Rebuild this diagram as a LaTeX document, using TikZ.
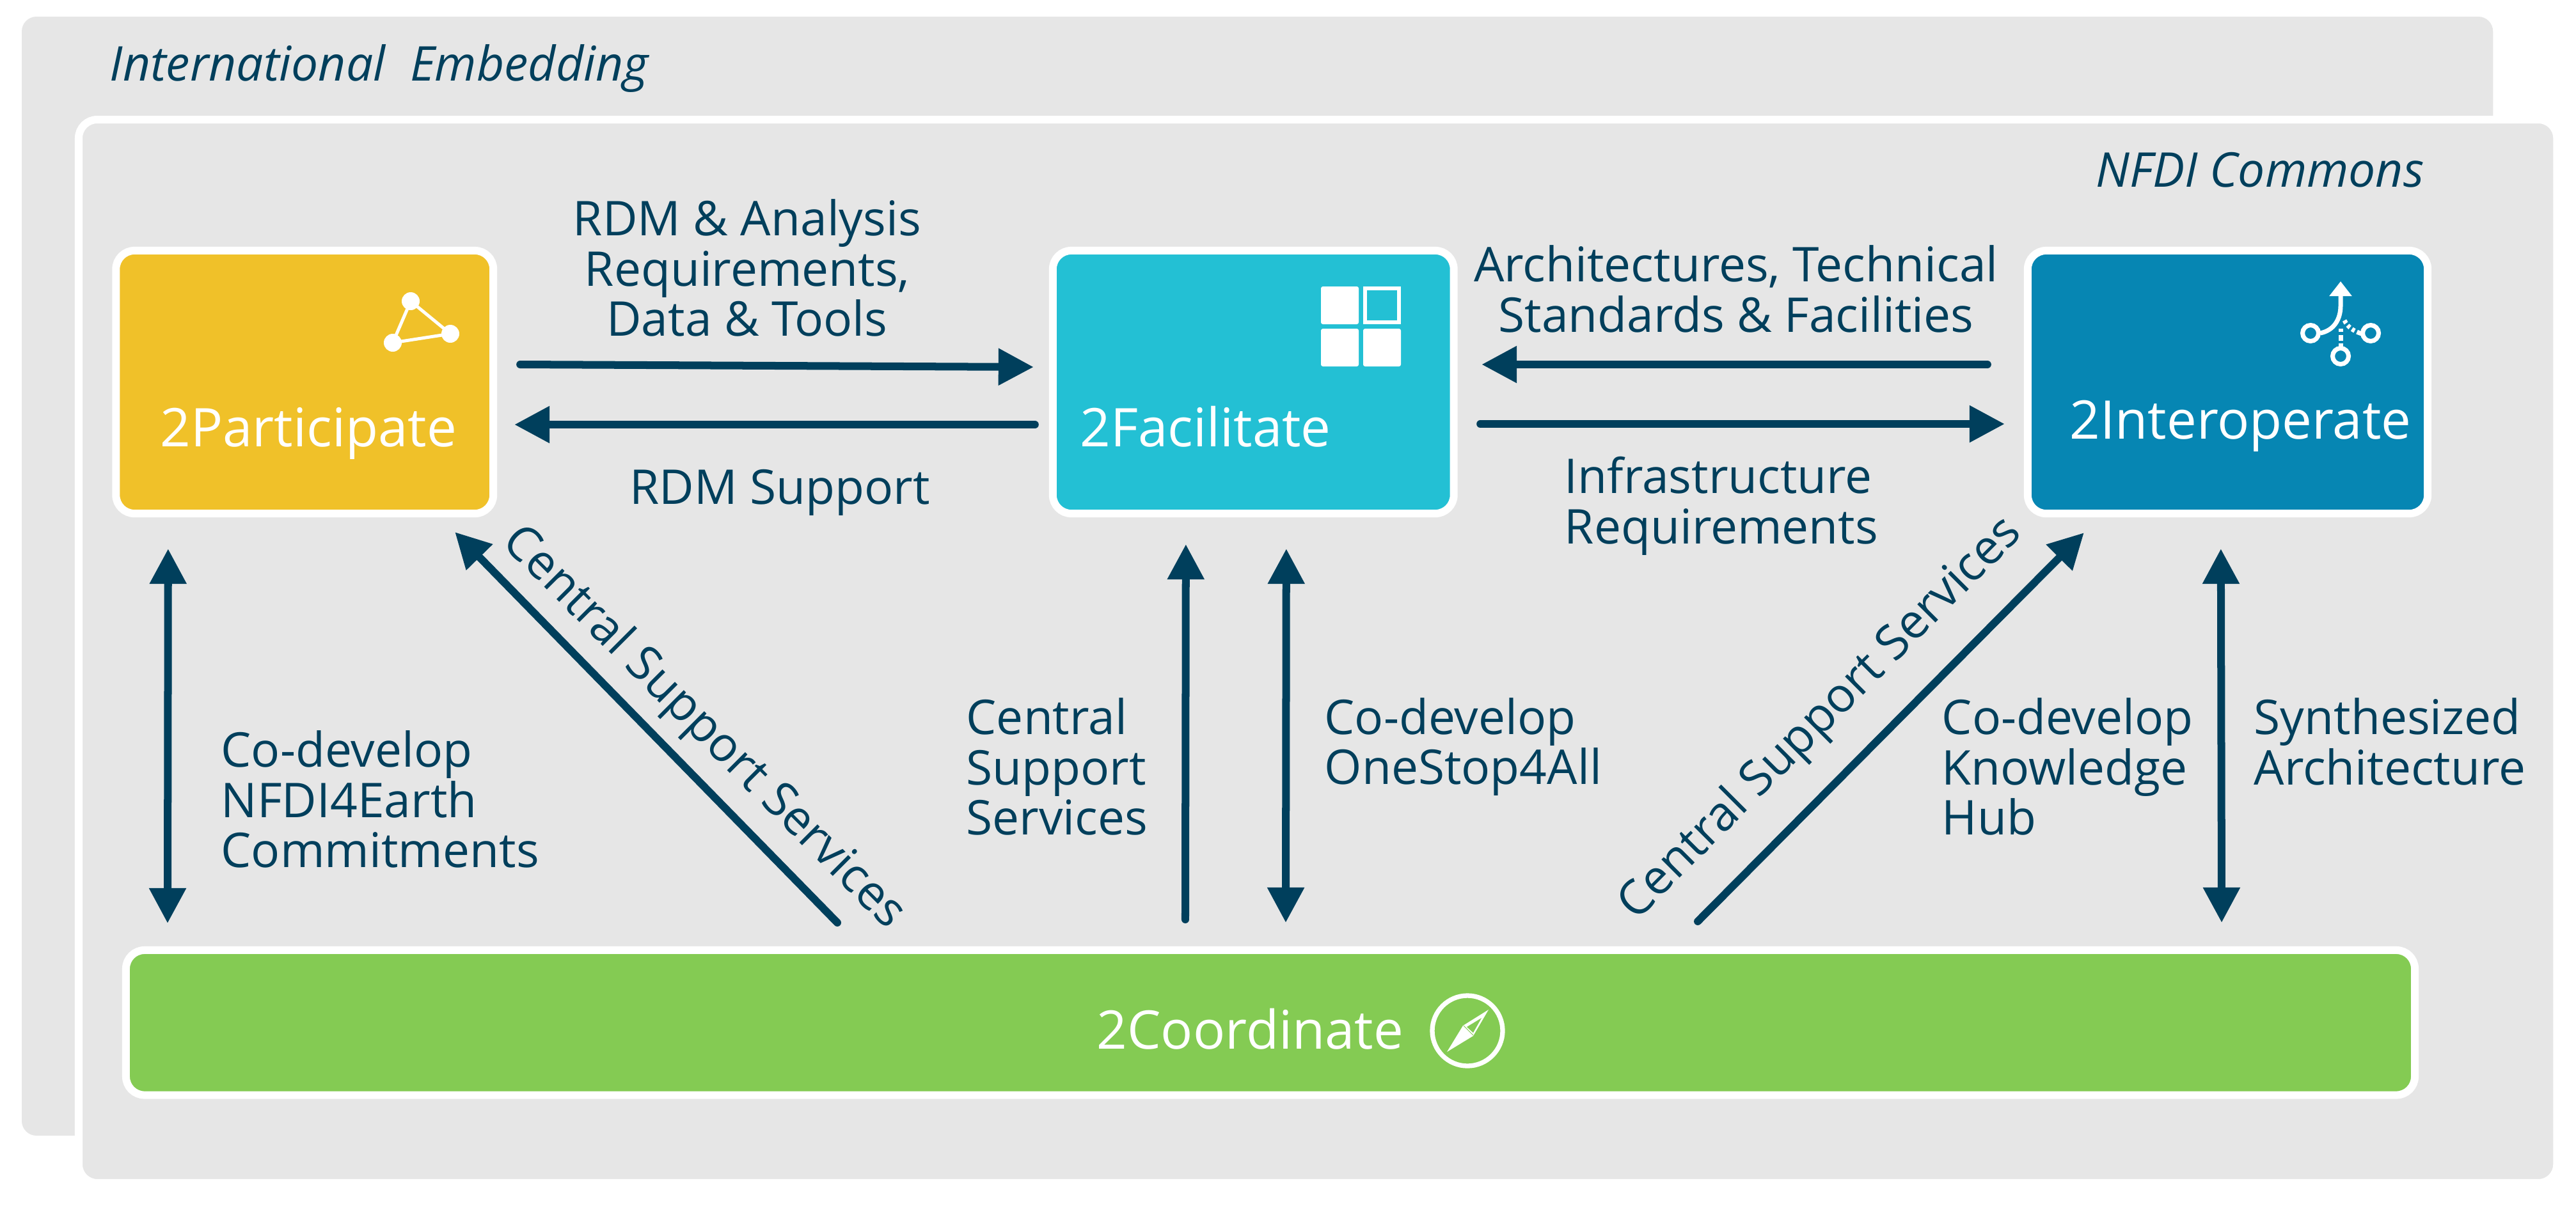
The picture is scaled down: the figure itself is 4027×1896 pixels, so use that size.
\documentclass[tikz,border=0pt]{standalone}
\usepackage{fontspec}
\setmainfont{Open Sans}
\usetikzlibrary{arrows.meta}
\definecolor{dark}{HTML}{003F5C}
\definecolor{panel}{HTML}{E6E6E6}
\definecolor{partcol}{HTML}{F0C129}
\definecolor{facicol}{HTML}{23C0D4}
\definecolor{intercol}{HTML}{0686B3}
\definecolor{coorcol}{HTML}{84CB53}
\tikzset{
  flow/.style={draw=dark,line width=1.2mm,line cap=round,-{Triangle[length=5.5mm,width=5.5mm]}},
  twoway/.style={flow,{Triangle[length=5.5mm,width=5.5mm]}-{Triangle[length=5.5mm,width=5.5mm]}},
  box/.style={draw=white,line width=1.2mm,rounded corners=2.9mm,outer sep=0pt,inner sep=0pt},
  backpanel/.style={fill=panel,rounded corners=2.3mm,anchor=north west,outer sep=0pt,inner sep=0pt},
  lbl/.style={text=dark,font=\fontsize{21.3}{22.4}\selectfont,align=left,inner sep=0pt},
  boxlbl/.style={text=white,font=\fontsize{23.7}{26}\selectfont,inner sep=0pt,anchor=base west},
}
\begin{document}
\begin{tikzpicture}[x=0.01cm,y=-0.01cm]
\useasboundingbox (0,0) rectangle (4027,1896);
% panels
\node[backpanel,minimum width=386.1mm,minimum height=174.9mm] (embedding) at (34,26) {};
\node[backpanel,draw=white,line width=1.2mm,rounded corners=2.9mm,minimum width=387.2mm,minimum height=166.2mm] (commons) at (123,187) {};
\node[lbl,anchor=base west,font=\fontsize{21.3}{22.4}\selectfont\itshape] (embeddingtext) at (171,126) {International\ \ Embedding};
\node[lbl,anchor=base east,font=\fontsize{21.3}{22.4}\selectfont\itshape] (commonstext) at (3790,292) {NFDI Commons};
% boxes
\node[box,fill=partcol,minimum width=58.95mm,minimum height=41.1mm] (part) at (476.25,597.5) {};
\node[box,fill=facicol,minimum width=62.65mm,minimum height=41.1mm] (faci) at (1959.25,597.5) {};
\node[box,fill=intercol,minimum width=62.5mm,minimum height=41.1mm] (inter) at (3482.5,597.5) {};
\node[box,fill=coorcol,minimum width=357.6mm,minimum height=22.65mm] (coor) at (1986,1599.25) {};
\node[boxlbl] (partlabel) at (250,698) {2Participate};
\node[boxlbl] (facilabel) at (1688,698) {2Facilitate};
\node[boxlbl] (interlabel) at (3235,686) {2Interoperate};
\node[boxlbl] (coorlabel) at (1714,1640) {2Coordinate};
% icon of 2Participate
\draw[white,line width=0.5mm] (642,471)--(704,522)--(614,536)--cycle;
\fill[white] (642,471) circle[radius=14] (704,522) circle[radius=14] (614,536) circle[radius=14];
% icon of 2Facilitate
\fill[white,rounded corners=0.3mm] (2065,448) rectangle (2124,507);
\fill[white,rounded corners=0.3mm] (2065,514) rectangle (2124,573);
\fill[white,rounded corners=0.3mm] (2131,514) rectangle (2190,573);
\draw[white,line width=0.6mm] (2134,451) rectangle (2187,504);
% icon of 2Interoperate
\draw[white,line width=0.7mm] (3612,521) circle[radius=12.5] (3706,521) circle[radius=12.5] (3659,557) circle[radius=12.5];
\draw[white,line width=0.7mm,-{Triangle[length=2.3mm,width=3.4mm]}] (3627,521) .. controls (3648,517) and (3659,500) .. (3659,478) -- (3659,440);
\draw[white,line width=0.7mm,dash pattern=on 0.5mm off 0.4mm on 0.9mm off 0.5mm on 1mm] (3659,542)--(3659,514);
\draw[white,line width=0.7mm,dash pattern=on 0.8mm off 0.4mm on 0.5mm off 0.4mm on 0.5mm off 0.4mm on 1mm] (3692,522) .. controls (3680,518) and (3670,512) .. (3665,501);
% icon of 2Coordinate
\draw[white,line width=0.73mm] (2294,1612) circle[radius=55];
\fill[white] (2327,1579)--(2303,1620)--(2262,1645)--(2287,1604)--cycle;
\fill[coorcol] (2316,1592)--(2293,1606)--(2303,1615)--cycle;
\draw[coorcol,line width=0.1mm] (2288,1604)--(2303,1619);
% connectors
\draw[flow] ([shift={(42,-27.5)}]part.east) -- ([shift={(-30,-23.5)}]faci.west);
\draw[flow] ([shift={(-28,66.5)}]faci.west) -- ([shift={(33,66.5)}]part.east);
\draw[flow] ([shift={(-63,-27.5)}]inter.west) -- ([shift={(43.5,-27.5)}]faci.east);
\draw[flow] ([shift={(41.5,65.5)}]faci.east) -- ([shift={(-36,65.5)}]inter.west);
\draw[twoway] ([shift={(81.5,55)}]part.south west) -- ([shift={(65,-42)}]coor.north west);
\draw[flow] ([shift={(1112,-43)}]coor.north west) -- ([shift={(-60,29)}]part.south east);
\draw[flow] ([shift={(1656,-48)}]coor.north west) -- ([shift={(208,48)}]faci.south west);
\draw[twoway] ([shift={(365,55)}]faci.south west) -- ([shift={(1813,-43)}]coor.north west);
\draw[flow] ([shift={(-1121,-45)}]coor.north east) -- ([shift={(88,30)}]inter.south west);
\draw[twoway] ([shift={(302,55)}]inter.south west) -- ([shift={(-302,-43)}]coor.north east);
% labels
\node[lbl,align=center] (needs) at (1168,419) {RDM \& Analysis\\Requirements,\\Data \& Tools};
\node[lbl] (support) at (1219,770) {RDM Support};
\node[lbl,align=center] (arch) at (2714,452) {Architectures, Technical\\Standards \& Facilities};
\node[lbl] (infra) at (2691,791) {Infrastructure\\Requirements};
\node[lbl,anchor=west] (commit) at (345,1250) {Co-develop\\NFDI4Earth\\Commitments};
\node[lbl,rotate=-45] (cssleft) at (1099,1139) {Central Support Services};
\node[lbl,anchor=west] (cssmid) at (1510,1199) {Central\\Support\\Services};
\node[lbl,anchor=west] (onestop) at (2070,1168) {Co-develop\\OneStop4All};
\node[lbl,rotate=45] (cssright) at (2847,1125) {Central Support Services};
\node[lbl,anchor=west] (hub) at (3035,1199) {Co-develop\\Knowledge\\Hub};
\node[lbl,anchor=west] (synth) at (3523,1160) {Synthesized\\Architecture};
\end{tikzpicture}
\end{document}
